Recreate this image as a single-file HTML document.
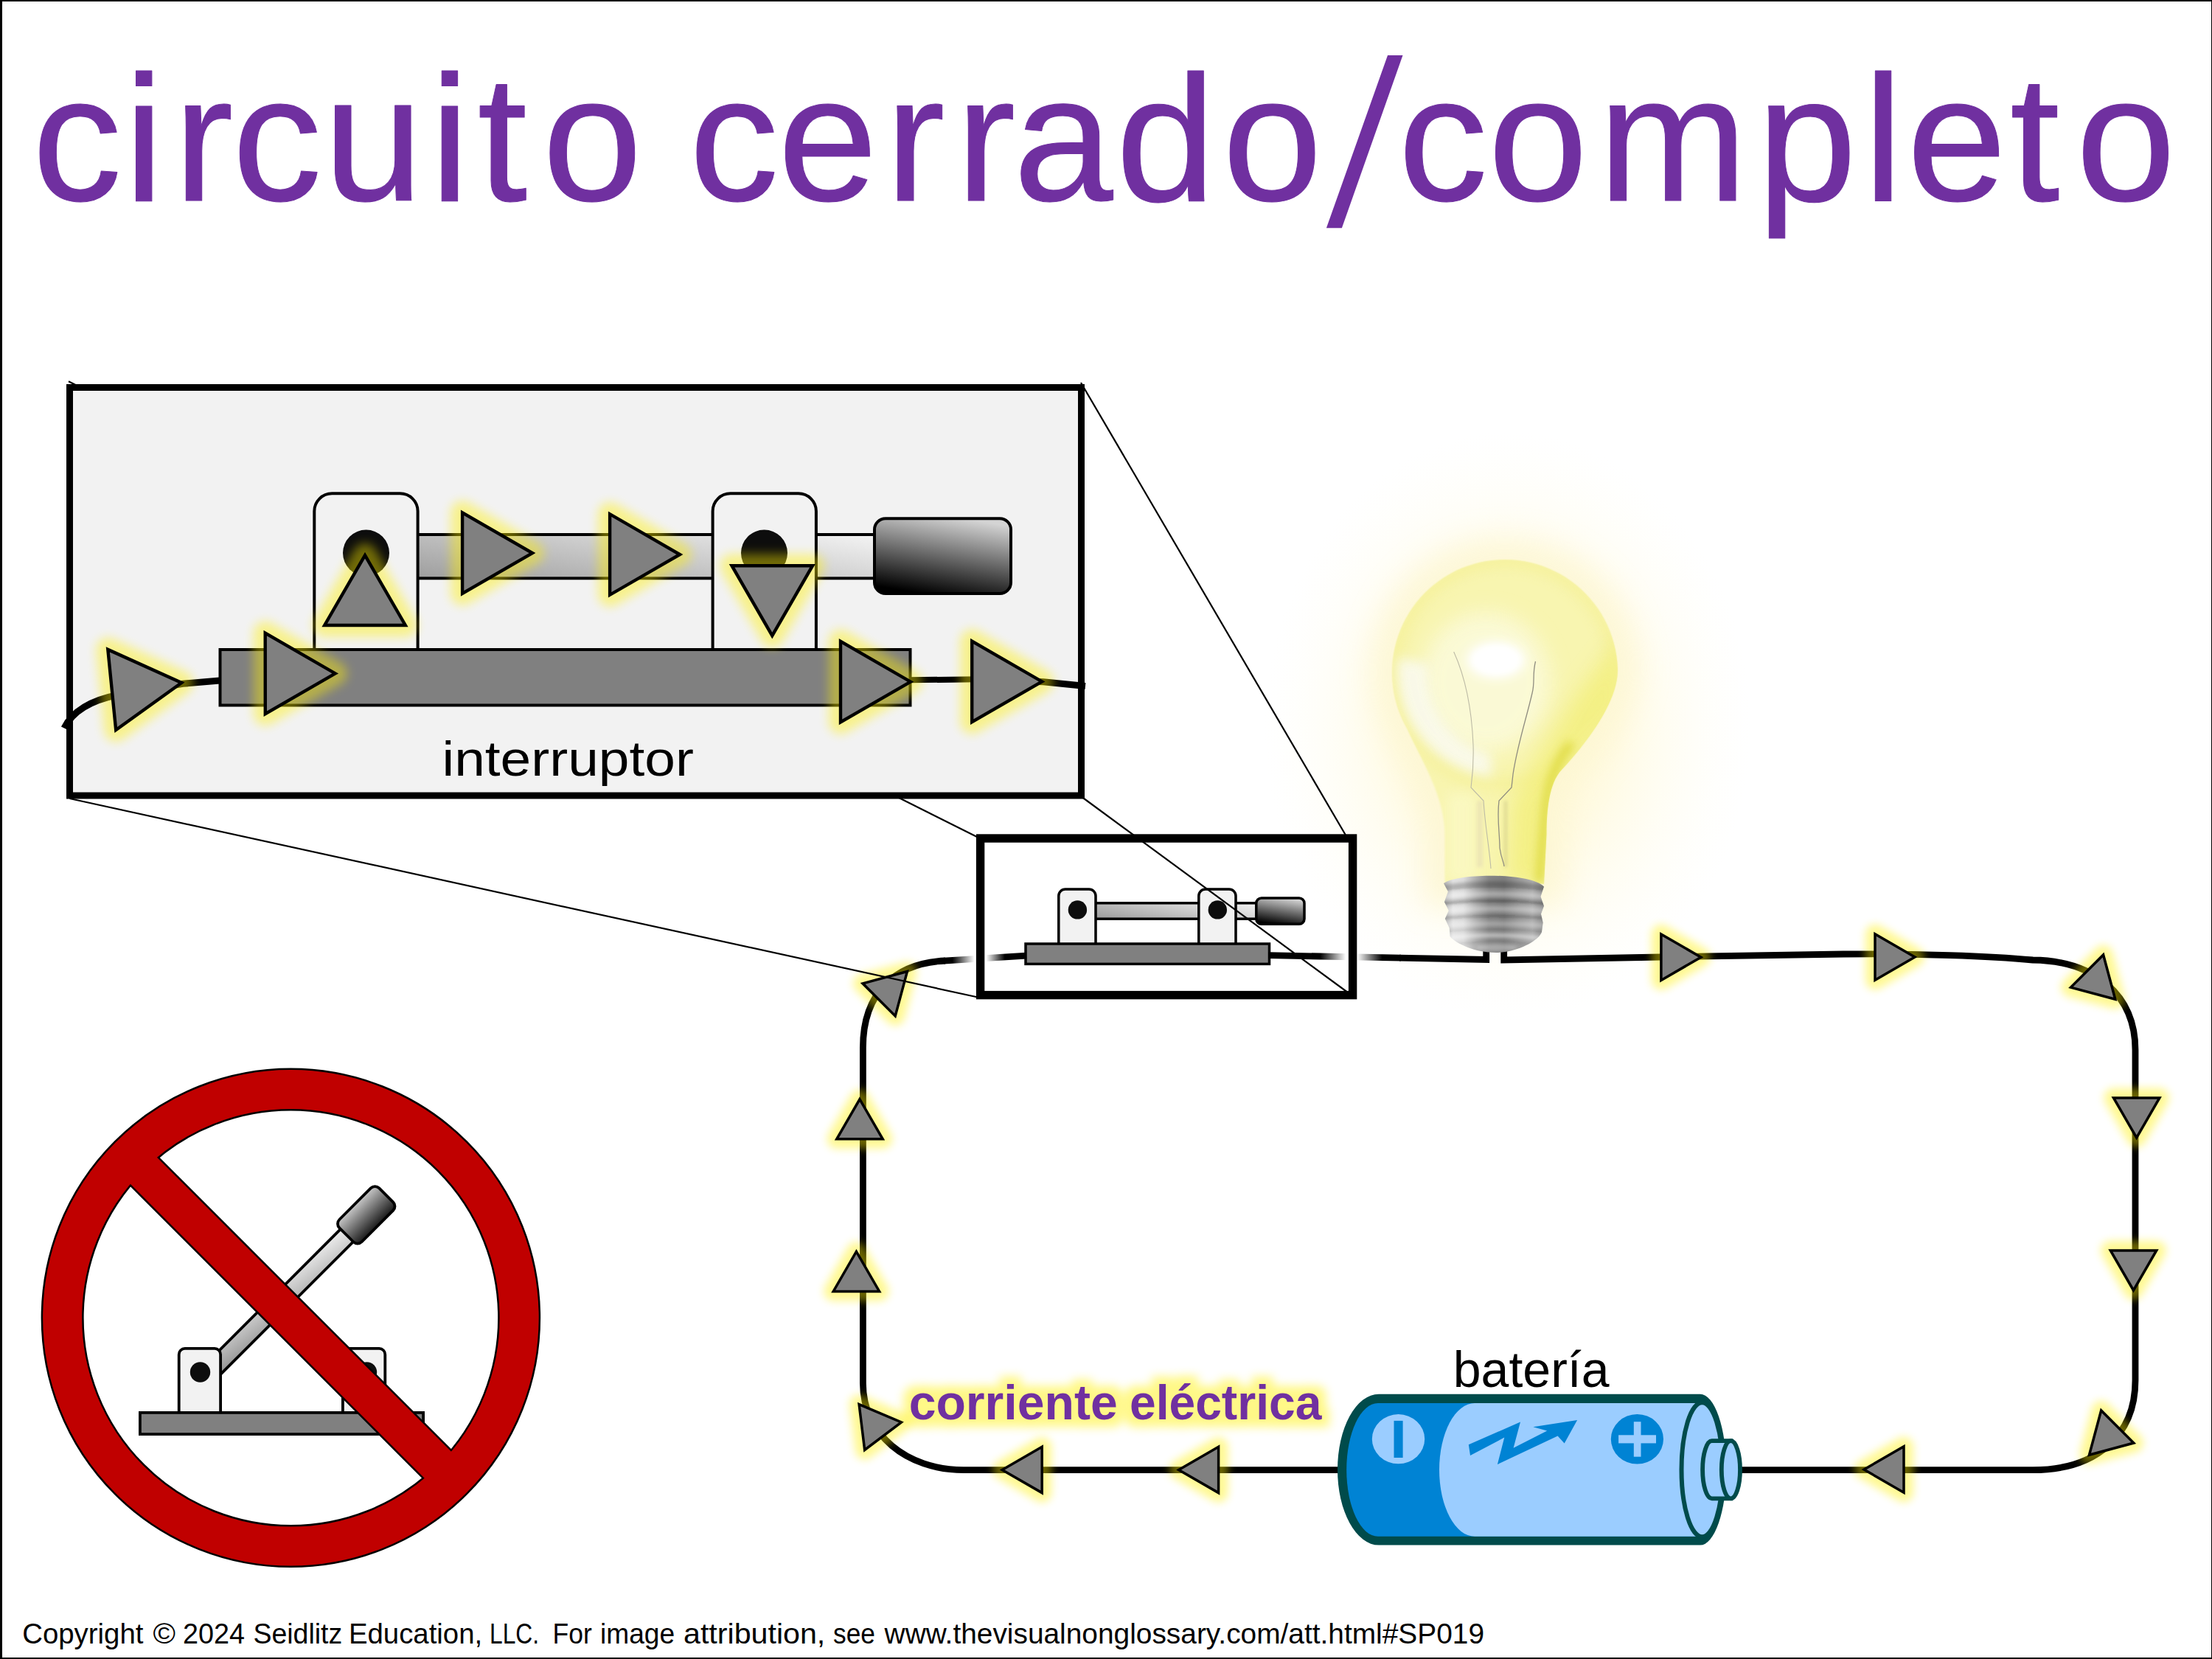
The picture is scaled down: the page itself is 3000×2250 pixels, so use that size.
<!DOCTYPE html>
<html lang="es">
<head>
<meta charset="utf-8">
<title>circuito cerrado/completo</title>
<style>
  html, body { margin: 0; padding: 0; background: #ffffff; }
  body { width: 3000px; height: 2250px; overflow: hidden; }
  svg { display: block; }
  text { font-family: "Liberation Sans", sans-serif; }
</style>
</head>
<body>
<svg width="3000" height="2250" viewBox="0 0 3000 2250">
<defs>
  <filter id="tglow" x="-10%" y="-70%" width="120%" height="240%" color-interpolation-filters="sRGB">
    <feMorphology in="SourceAlpha" operator="dilate" radius="10" result="d"/>
    <feGaussianBlur in="d" stdDeviation="6.5" result="b"/>
    <feFlood flood-color="#fff000" flood-opacity="0.47" result="f"/>
    <feComposite in="f" in2="b" operator="in" result="g"/>
    <feMerge><feMergeNode in="g"/><feMergeNode in="SourceGraphic"/></feMerge>
  </filter>
  <filter id="gb" x="-60%" y="-60%" width="220%" height="220%"><feGaussianBlur stdDeviation="6"/></filter>
  <filter id="blur4" x="-50%" y="-50%" width="200%" height="200%"><feGaussianBlur stdDeviation="4"/></filter>
  <filter id="blur8" x="-50%" y="-50%" width="200%" height="200%"><feGaussianBlur stdDeviation="8"/></filter>
  <filter id="blur20" x="-50%" y="-50%" width="200%" height="200%"><feGaussianBlur stdDeviation="20"/></filter>
  <filter id="blur6" x="-50%" y="-50%" width="200%" height="200%"><feGaussianBlur stdDeviation="6"/></filter>
  <filter id="blur1"><feGaussianBlur stdDeviation="1.2"/></filter>
  <filter id="blur2" x="-100%" y="-20%" width="300%" height="140%"><feGaussianBlur stdDeviation="2"/></filter>
  <filter id="blur14" x="-50%" y="-50%" width="200%" height="200%"><feGaussianBlur stdDeviation="14"/></filter>
  <linearGradient id="lever" x1="0" y1="1" x2="1" y2="0">
    <stop offset="0" stop-color="#8e8e8e"/><stop offset="0.5" stop-color="#d2d2d2"/><stop offset="1" stop-color="#f0f0f0"/>
  </linearGradient>
  <linearGradient id="handle" x1="0.35" y1="1" x2="0.65" y2="0">
    <stop offset="0" stop-color="#000000"/><stop offset="0.5" stop-color="#6a6a6a"/><stop offset="1" stop-color="#d4d4d4"/>
  </linearGradient>
  <linearGradient id="leverA" gradientUnits="userSpaceOnUse" x1="500" y1="784.3" x2="526.4" y2="619.1">
    <stop offset="0" stop-color="#989898"/><stop offset="1" stop-color="#f4f4f4"/>
  </linearGradient>
  <linearGradient id="leverB" gradientUnits="userSpaceOnUse" x1="1480" y1="1246.2" x2="1490.5" y2="1186.9">
    <stop offset="0" stop-color="#989898"/><stop offset="1" stop-color="#f4f4f4"/>
  </linearGradient>
  <filter id="gb7" x="-60%" y="-60%" width="220%" height="220%"><feGaussianBlur stdDeviation="7"/></filter>
  
  <linearGradient id="lever2" gradientUnits="userSpaceOnUse" x1="0" y1="12" x2="11.06" y2="-57.1">
    <stop offset="0" stop-color="#929292"/><stop offset="1" stop-color="#f2f2f2"/>
  </linearGradient>
  <linearGradient id="handle2" x1="0" y1="1" x2="0" y2="0">
    <stop offset="0" stop-color="#1a1a1a"/><stop offset="1" stop-color="#c8c8c8"/>
  </linearGradient>

  <radialGradient id="bglow" cx="0.5" cy="0.5" r="0.5">
    <stop offset="0" stop-color="#fff2a8" stop-opacity="0.6"/>
    <stop offset="0.45" stop-color="#fff4b8" stop-opacity="0.38"/>
    <stop offset="0.75" stop-color="#fff8d0" stop-opacity="0.16"/>
    <stop offset="1" stop-color="#fffbe6" stop-opacity="0"/>
  </radialGradient>
  <clipPath id="glassclip"><path d="M1959.6,1200 L1959.6,1131 C1959.6,1080 1926,1028 1908.5,988.5 A153,153 0 1 1 2193.9,906.7 C2195.5,951.7 2150,1010 2118,1044 C2100.7,1062 2097.5,1100 2097.5,1131 L2094,1199 L2060,1196 Z"/></clipPath>
  <clipPath id="baseclip"><path d="M1958,1198 C1975,1184 2075,1183 2094,1202.5 L2089.5,1216 L2094,1228.7 L2090,1239.6 L2092.7,1251.3 L2091,1264 C2088,1274 2062,1291 2029.5,1292 C2000,1292 1975,1280 1966.6,1270 L1965.7,1258.6 L1959.8,1245.9 L1964.8,1235 L1958.9,1223.3 L1963.9,1209.3 Z"/></clipPath>
  <linearGradient id="baseg" gradientUnits="userSpaceOnUse" x1="1957" y1="0" x2="2095" y2="0">
    <stop offset="0" stop-color="#b0b0b0"/><stop offset="0.1" stop-color="#e4e4e4"/><stop offset="0.2" stop-color="#dedede"/><stop offset="0.33" stop-color="#acacac"/>
    <stop offset="0.45" stop-color="#868686"/><stop offset="0.6" stop-color="#7e7e7e"/><stop offset="0.75" stop-color="#9a9a9a"/><stop offset="0.88" stop-color="#aeaeae"/><stop offset="1" stop-color="#8c8c8c"/>
  </linearGradient>

</defs>

<rect x="0" y="0" width="3000" height="2250" fill="#ffffff"/>


<g id="bulb">
  <ellipse cx="2045" cy="985" rx="330" ry="400" fill="url(#bglow)"/>
  <path d="M1959.6,1200 L1959.6,1131 C1959.6,1080 1926,1028 1908.5,988.5 A153,153 0 1 1 2193.9,906.7 C2195.5,951.7 2150,1010 2118,1044 C2100.7,1062 2097.5,1100 2097.5,1131 L2094,1199 L2060,1196 Z" fill="none" stroke="#fdf6d0" stroke-width="56" filter="url(#blur20)" opacity="0.8"/>
  <path d="M1959.6,1200 L1959.6,1131 C1959.6,1080 1926,1028 1908.5,988.5 A153,153 0 1 1 2193.9,906.7 C2195.5,951.7 2150,1010 2118,1044 C2100.7,1062 2097.5,1100 2097.5,1131 L2094,1199 L2060,1196 Z" fill="#f8f5b0" filter="url(#blur1)"/>
  <g clip-path="url(#glassclip)">
    <circle cx="2041" cy="912" r="151" fill="none" stroke="#f4ee88" stroke-width="18" filter="url(#blur8)" opacity="0.45"/>
    <ellipse cx="2015" cy="925" rx="88" ry="95" fill="#fbfadc" filter="url(#blur14)" opacity="0.85"/>
    <path d="M2200,860 L2200,960 L2122,1050 L2106,1090 L2100,1200 L2045,1200 L2050,1090 L2085,1030 L2140,940 Z" fill="#f3ef80" filter="url(#blur14)" opacity="0.9"/>
    <path d="M2128,1012 C2112,1032 2102,1056 2097,1090 L2088,1192" fill="none" stroke="#deda40" stroke-width="13" stroke-linecap="round" filter="url(#blur6)" opacity="0.85"/>
    <path d="M1896.4,891.7 A146,146 0 0 0 2023.6,1053.9 L2021.6,1022.3 A110,110 0 0 1 1937.6,901.1 Z" fill="#f9f9ee" filter="url(#blur8)" opacity="0.9"/>
    <rect x="1962" y="1075" width="40" height="120" fill="#fbf9c6" filter="url(#blur8)" opacity="0.7"/>
    <ellipse cx="2029" cy="895" rx="40" ry="25" fill="#ffffff" filter="url(#blur8)"/>
    <ellipse cx="2029" cy="895" rx="32" ry="19" fill="#ffffff" filter="url(#blur4)"/>
  </g>
  <!-- stem + filament -->
  <g fill="none">
    <rect x="2003" y="1086" width="8" height="90" fill="#e8e0b4" opacity="0.7" filter="url(#blur2)"/>
    <rect x="2040" y="1086" width="4" height="90" fill="#d8d290" opacity="0.8" filter="url(#blur2)"/>
    <path d="M1971.7,884 C1988,920 1996,960 1998,1010 C1999,1040 1996,1060 1995,1068 L2012,1086 C2014,1120 2020,1150 2022,1178" stroke="#bdbba6" stroke-width="1.1"/>
    <path d="M2082.5,897 C2078,915 2082,925 2078,940 C2070,975 2058,1010 2052,1050 L2050,1068 L2033,1086 C2030,1110 2034,1130 2034,1150 C2036,1165 2040,1170 2040,1175" stroke="#8f8d80" stroke-width="1.3"/>
  </g>
</g>


<g stroke="#000" stroke-width="3.5">
  <rect x="1480" y="1224.8" width="225" height="21.4" fill="url(#leverB)"/>
  <rect x="1435.8" y="1206" width="50.2" height="90" rx="9" fill="#f2f2f2"/>
  <rect x="1625.8" y="1206" width="50.2" height="90" rx="9" fill="#f2f2f2"/>
  <rect x="1703.8" y="1218" width="65.2" height="35.2" rx="7" fill="url(#handle)"/>
  <rect x="1391" y="1280" width="330.5" height="27.4" fill="#808080"/>
</g>
<circle cx="1461.4" cy="1233.9" r="12.7" fill="#0d0d0d"/>
<circle cx="1651.3" cy="1233.9" r="12.7" fill="#0d0d0d"/>


<defs>
  <linearGradient id="fadeL" gradientUnits="userSpaceOnUse" x1="1280" y1="0" x2="1395" y2="0">
    <stop offset="0" stop-color="#000"/><stop offset="0.10" stop-color="#000"/><stop offset="0.36" stop-color="#fff"/>
    <stop offset="0.50" stop-color="#fff"/><stop offset="0.72" stop-color="#000"/><stop offset="1" stop-color="#000"/>
  </linearGradient>
  <linearGradient id="fadeR" gradientUnits="userSpaceOnUse" x1="1720" y1="0" x2="1900" y2="0">
    <stop offset="0" stop-color="#000"/><stop offset="0.39" stop-color="#000"/><stop offset="0.585" stop-color="#fff"/>
    <stop offset="0.67" stop-color="#fff"/><stop offset="0.86" stop-color="#000"/><stop offset="1" stop-color="#000"/>
  </linearGradient>
</defs>
<g fill="none" stroke="#000" stroke-width="8.8" stroke-linejoin="miter">
  <!-- left/bottom loop: battery(-) to switch -->
  <path d="M1816,1993.6 L1307,1993.6 C1229,1993.6 1170.4,1945 1170.4,1876 L1170.4,1421 C1170.4,1345 1215,1306 1282,1303"/>
  <path d="M1280,1303.1 L1392,1296.2" stroke="url(#fadeL)"/>
  <!-- switch to bulb -->
  <path d="M1721,1295.6 L1900,1299.2" stroke="url(#fadeR)"/>
  <path d="M1898,1299.1 L2015.7,1301.4 L2015.7,1286"/>
  <!-- bulb to battery(+) -->
  <path d="M2039.7,1286 L2039.7,1302 L2252,1298 L2500,1294 C2600,1293 2700,1296.5 2757,1302 C2842,1303 2896,1350 2896,1424 L2896,1872 C2896,1948 2842,1993.6 2757,1993.6 L2358,1993.6"/>
</g>

<g id="bulbbase">
  <!-- screw base -->
  <path id="basep" d="M1958,1198 C1975,1184 2075,1183 2094,1202.5 L2089.5,1216 L2094,1228.7 L2090,1239.6 L2092.7,1251.3 L2091,1264 C2088,1274 2062,1291 2029.5,1292 C2000,1292 1975,1280 1966.6,1270 L1965.7,1258.6 L1959.8,1245.9 L1964.8,1235 L1958.9,1223.3 L1963.9,1209.3 Z" fill="url(#baseg)"/>
  <g clip-path="url(#baseclip)" filter="url(#blur2)">
    <path d="M1950,1206 Q2026,1193.0 2102,1206" stroke="#000" stroke-opacity="0.22" stroke-width="9" fill="none"/>
    <path d="M1950,1217 Q2026,1207.6 2102,1217" stroke="#fff" stroke-opacity="0.3" stroke-width="7" fill="none"/>
    <path d="M1950,1225 Q2026,1216.0 2102,1225" stroke="#000" stroke-opacity="0.24" stroke-width="8" fill="none"/>
    <path d="M1950,1236 Q2026,1228.6 2102,1236" stroke="#fff" stroke-opacity="0.3" stroke-width="7" fill="none"/>
    <path d="M1950,1245 Q2026,1238.0 2102,1245" stroke="#000" stroke-opacity="0.17" stroke-width="7" fill="none"/>
    <path d="M1950,1256 Q2026,1249.4 2102,1256" stroke="#fff" stroke-opacity="0.25" stroke-width="7" fill="none"/>
    <path d="M1950,1262 Q2026,1257.0 2102,1262" stroke="#000" stroke-opacity="0.12" stroke-width="5" fill="none"/>
    <path d="M1950,1274 Q2026,1263.0 2102,1274" stroke="#fff" stroke-opacity="0.45" stroke-width="6" fill="none"/>
    <path d="M1950,1282 Q2026,1273.0 2102,1282" stroke="#000" stroke-opacity="0.08" stroke-width="5" fill="none"/>
    <ellipse cx="2030" cy="1285" rx="28" ry="5" fill="#fff" fill-opacity="0.3"/>
  </g>
</g>

<rect x="1329.6" y="1137" width="505" height="212.6" fill="none" stroke="#000" stroke-width="11.4"/>
<polygon points="2306.9,1298.2 2252.9,1329.4 2252.9,1267.0" fill="#fff000" stroke="#fff000" stroke-width="26" stroke-linejoin="round" opacity="0.42" filter="url(#gb)"/>
<polygon points="2306.9,1298.2 2252.9,1329.4 2252.9,1267.0" fill="#808080" stroke="#000" stroke-width="3.5" stroke-linejoin="miter"/>
<polygon points="2597.0,1298.0 2543.0,1329.2 2543.0,1266.8" fill="#fff000" stroke="#fff000" stroke-width="26" stroke-linejoin="round" opacity="0.42" filter="url(#gb)"/>
<polygon points="2597.0,1298.0 2543.0,1329.2 2543.0,1266.8" fill="#808080" stroke="#000" stroke-width="3.5" stroke-linejoin="miter"/>
<polygon points="2868.8,1355.3 2808.5,1339.1 2852.6,1295.0" fill="#fff000" stroke="#fff000" stroke-width="26" stroke-linejoin="round" opacity="0.42" filter="url(#gb)"/>
<polygon points="2868.8,1355.3 2808.5,1339.1 2852.6,1295.0" fill="#808080" stroke="#000" stroke-width="3.5" stroke-linejoin="miter"/>
<polygon points="2897.7,1543.0 2866.5,1489.0 2928.9,1489.0" fill="#fff000" stroke="#fff000" stroke-width="26" stroke-linejoin="round" opacity="0.42" filter="url(#gb)"/>
<polygon points="2897.7,1543.0 2866.5,1489.0 2928.9,1489.0" fill="#808080" stroke="#000" stroke-width="3.5" stroke-linejoin="miter"/>
<polygon points="2893.5,1750.0 2862.3,1696.0 2924.7,1696.0" fill="#fff000" stroke="#fff000" stroke-width="26" stroke-linejoin="round" opacity="0.42" filter="url(#gb)"/>
<polygon points="2893.5,1750.0 2862.3,1696.0 2924.7,1696.0" fill="#808080" stroke="#000" stroke-width="3.5" stroke-linejoin="miter"/>
<polygon points="2833.5,1973.2 2849.7,1912.9 2893.8,1957.0" fill="#fff000" stroke="#fff000" stroke-width="26" stroke-linejoin="round" opacity="0.42" filter="url(#gb)"/>
<polygon points="2833.5,1973.2 2849.7,1912.9 2893.8,1957.0" fill="#808080" stroke="#000" stroke-width="3.5" stroke-linejoin="miter"/>
<polygon points="2528.0,1993.0 2582.0,1961.8 2582.0,2024.2" fill="#fff000" stroke="#fff000" stroke-width="26" stroke-linejoin="round" opacity="0.42" filter="url(#gb)"/>
<polygon points="2528.0,1993.0 2582.0,1961.8 2582.0,2024.2" fill="#808080" stroke="#000" stroke-width="3.5" stroke-linejoin="miter"/>
<polygon points="1598.6,1993.4 1652.6,1962.2 1652.6,2024.6" fill="#fff000" stroke="#fff000" stroke-width="26" stroke-linejoin="round" opacity="0.42" filter="url(#gb)"/>
<polygon points="1598.6,1993.4 1652.6,1962.2 1652.6,2024.6" fill="#808080" stroke="#000" stroke-width="3.5" stroke-linejoin="miter"/>
<polygon points="1359.2,1993.4 1413.2,1962.2 1413.2,2024.6" fill="#fff000" stroke="#fff000" stroke-width="26" stroke-linejoin="round" opacity="0.42" filter="url(#gb)"/>
<polygon points="1359.2,1993.4 1413.2,1962.2 1413.2,2024.6" fill="#808080" stroke="#000" stroke-width="3.5" stroke-linejoin="miter"/>
<polygon points="1165.1,1904.6 1222.5,1929.0 1172.7,1966.5" fill="#fff000" stroke="#fff000" stroke-width="26" stroke-linejoin="round" opacity="0.42" filter="url(#gb)"/>
<polygon points="1165.1,1904.6 1222.5,1929.0 1172.7,1966.5" fill="#808080" stroke="#000" stroke-width="3.5" stroke-linejoin="miter"/>
<polygon points="1161.4,1697.4 1192.6,1751.4 1130.2,1751.4" fill="#fff000" stroke="#fff000" stroke-width="26" stroke-linejoin="round" opacity="0.42" filter="url(#gb)"/>
<polygon points="1161.4,1697.4 1192.6,1751.4 1130.2,1751.4" fill="#808080" stroke="#000" stroke-width="3.5" stroke-linejoin="miter"/>
<polygon points="1166.0,1490.8 1197.2,1544.8 1134.8,1544.8" fill="#fff000" stroke="#fff000" stroke-width="26" stroke-linejoin="round" opacity="0.42" filter="url(#gb)"/>
<polygon points="1166.0,1490.8 1197.2,1544.8 1134.8,1544.8" fill="#808080" stroke="#000" stroke-width="3.5" stroke-linejoin="miter"/>
<polygon points="1230.4,1317.6 1214.2,1377.9 1170.1,1333.8" fill="#fff000" stroke="#fff000" stroke-width="26" stroke-linejoin="round" opacity="0.42" filter="url(#gb)"/>
<polygon points="1230.4,1317.6 1214.2,1377.9 1170.1,1333.8" fill="#808080" stroke="#000" stroke-width="3.5" stroke-linejoin="miter"/>

<g stroke="#000" stroke-width="2.2" fill="none">
  <line x1="93" y1="517.3" x2="1329" y2="1137"/>
  <line x1="1466" y1="519" x2="1827" y2="1136"/>
  <line x1="1466" y1="1080" x2="1832" y2="1349"/>
  <line x1="94.5" y1="1083" x2="1329.6" y2="1353.3"/>
</g>


<rect x="94.5" y="525.5" width="1372" height="553.5" fill="#f2f2f2" stroke="#000" stroke-width="9"/>
<g fill="none" stroke="#000" stroke-width="9">
  <path d="M87,987.5 C99,963.5 124,949.5 160,942.5 L248,927.3 L298,923"/>
  <path d="M1234,922.3 L1345,921" stroke-width="8"/>
  <path d="M1395,924 L1415,924.8 L1472,930.5"/>
</g>
<g stroke="#000" stroke-width="4">
  <rect x="500" y="725" width="690" height="59.3" fill="url(#leverA)"/>
  <rect x="426.3" y="669.3" width="140.3" height="250" rx="24" fill="#f2f2f2"/>
  <rect x="966.6" y="669.3" width="140.3" height="250" rx="24" fill="#f2f2f2"/>
  <rect x="1186" y="703.2" width="185" height="101.8" rx="15" fill="url(#handle)"/>
  <rect x="298.5" y="881" width="936" height="75.5" fill="#808080"/>
</g>
<circle cx="496.5" cy="750" r="31.5" fill="#0d0d0d"/>
<circle cx="1036.5" cy="750" r="31.5" fill="#0d0d0d"/>
<polygon points="246.2,926.0 157.2,990.0 146.3,880.9" fill="#fff000" stroke="#fff000" stroke-width="32" stroke-linejoin="round" opacity="0.42" filter="url(#gb7)"/>
<polygon points="246.2,926.0 157.2,990.0 146.3,880.9" fill="#808080" stroke="#000" stroke-width="4.4" stroke-linejoin="miter"/>
<polygon points="454.7,913.4 359.8,968.2 359.7,858.6" fill="#fff000" stroke="#fff000" stroke-width="32" stroke-linejoin="round" opacity="0.42" filter="url(#gb7)"/>
<polygon points="454.7,913.4 359.8,968.2 359.7,858.6" fill="#808080" stroke="#000" stroke-width="4.4" stroke-linejoin="miter"/>
<polygon points="495.0,753.1 549.8,848.0 440.2,848.0" fill="#fff000" stroke="#fff000" stroke-width="32" stroke-linejoin="round" opacity="0.42" filter="url(#gb7)"/>
<polygon points="495.0,753.1 549.8,848.0 440.2,848.0" fill="#808080" stroke="#000" stroke-width="4.4" stroke-linejoin="miter"/>
<polygon points="722.0,750.1 627.1,804.9 627.1,695.3" fill="#fff000" stroke="#fff000" stroke-width="32" stroke-linejoin="round" opacity="0.42" filter="url(#gb7)"/>
<polygon points="722.0,750.1 627.1,804.9 627.1,695.3" fill="#808080" stroke="#000" stroke-width="4.4" stroke-linejoin="miter"/>
<polygon points="922.0,752.0 827.1,806.8 827.1,697.2" fill="#fff000" stroke="#fff000" stroke-width="32" stroke-linejoin="round" opacity="0.42" filter="url(#gb7)"/>
<polygon points="922.0,752.0 827.1,806.8 827.1,697.2" fill="#808080" stroke="#000" stroke-width="4.4" stroke-linejoin="miter"/>
<polygon points="1047.3,862.2 992.5,767.2 1102.1,767.2" fill="#fff000" stroke="#fff000" stroke-width="32" stroke-linejoin="round" opacity="0.42" filter="url(#gb7)"/>
<polygon points="1047.3,862.2 992.5,767.2 1102.1,767.2" fill="#808080" stroke="#000" stroke-width="4.4" stroke-linejoin="miter"/>
<polygon points="1235.0,924.7 1140.0,979.5 1140.0,869.9" fill="#fff000" stroke="#fff000" stroke-width="32" stroke-linejoin="round" opacity="0.42" filter="url(#gb7)"/>
<polygon points="1235.0,924.7 1140.0,979.5 1140.0,869.9" fill="#808080" stroke="#000" stroke-width="4.4" stroke-linejoin="miter"/>
<polygon points="1413.2,924.4 1318.2,979.2 1318.2,869.6" fill="#fff000" stroke="#fff000" stroke-width="32" stroke-linejoin="round" opacity="0.42" filter="url(#gb7)"/>
<polygon points="1413.2,924.4 1318.2,979.2 1318.2,869.6" fill="#808080" stroke="#000" stroke-width="4.4" stroke-linejoin="miter"/>
<text x="599.5" y="1052" font-size="67.5" textLength="341.4" lengthAdjust="spacingAndGlyphs" fill="#000">interruptor</text>

<g>
  <path d="M1870,1890.8 L2305.8,1890.8 A35.5,102.4 0 0 1 2305.8,2095.6 L1870,2095.6 A56,102.4 0 0 1 1870,1890.8 Z" fill="#004b4b"/>
  <path d="M1868.8,1903 L2308,1903 L2308,2083.8 L1868.8,2083.8 A42.6,90.4 0 0 1 1868.8,1903 Z" fill="#0083d4"/>
  <path d="M2000,1903 L2308,1903 L2308,2083.8 L2000,2083.8 A48,90.4 0 0 1 2000,1903 Z" fill="#9bcdff"/>
  <ellipse cx="2308.5" cy="1993.2" rx="28" ry="91" fill="#9bcdff" stroke="#004b4b" stroke-width="6"/>
  <path d="M2321.7,1954.2 L2347.4,1954.2 L2347.4,2032.4 L2321.7,2032.4 A12.6,39.1 0 0 1 2321.7,1954.2 Z" fill="#9bcdff" stroke="#004b4b" stroke-width="5.8"/>
  <ellipse cx="2347.4" cy="1993.3" rx="12.6" ry="39.1" fill="#9bcdff" stroke="#004b4b" stroke-width="5.8"/>
  <!-- minus -->
  <ellipse cx="1896.5" cy="1951.7" rx="35.7" ry="33.6" fill="#9bcdff"/>
  <rect x="1890.5" y="1926.9" width="12.1" height="50.1" fill="#0083d4"/>
  <!-- plus -->
  <ellipse cx="2220.4" cy="1951.8" rx="35.6" ry="33.8" fill="#0083d4"/>
  <rect x="2195.1" y="1946.3" width="50.9" height="11.1" fill="#9bcdff"/>
  <rect x="2215.8" y="1928.2" width="9.7" height="47.5" fill="#9bcdff"/>
  <!-- bolt -->
  <polygon fill="#0083d4" points="1991.8,1959.3 2062,1928.6 2052.6,1963.7 2098.2,1940.5 2079.3,1935.2 2139.1,1926 2121.7,1957.6 2112.6,1947.5 2030.9,1986.1 2040.3,1949.6 1994,1974.1"/>
</g>
<text x="1970.8" y="1880.9" font-size="68" textLength="211.7" lengthAdjust="spacingAndGlyphs" fill="#000">batería</text>
<text font-weight="bold" font-size="67" fill="#7030a0" filter="url(#tglow)" y="1925.4"><tspan x="1232.7" textLength="283.0" lengthAdjust="spacingAndGlyphs">corriente</tspan> <tspan x="1532.0" textLength="260.4" lengthAdjust="spacingAndGlyphs">eléctrica</tspan></text>


<g>
  <!-- open switch -->
  <g stroke="#000" stroke-width="3.8">
    <g transform="translate(278.25,1867.75) rotate(-45)">
      <rect x="0" y="-12.1" width="300" height="24.2" fill="url(#lever2)"/>
      <rect x="271.9" y="-22.4" width="76.2" height="42.8" rx="8" fill="url(#handle2)"/>
    </g>
    <rect x="242.7" y="1828.9" width="56.4" height="100" rx="8" fill="#f2f2f2"/>
    <rect x="464.9" y="1828.9" width="57.4" height="100" rx="8" fill="#f2f2f2"/>
    <rect x="189.9" y="1915.9" width="384.2" height="29.2" fill="#808080"/>
  </g>
  <circle cx="271.5" cy="1861" r="13.7" fill="#0d0d0d"/>
  <circle cx="497.5" cy="1861" r="13.7" fill="#0d0d0d"/>
  <!-- prohibition sign -->
  <circle cx="394.4" cy="1787.3" r="309.75" fill="none" stroke="#000" stroke-width="58"/>
  <line x1="175.6" y1="1568.5" x2="613.2" y2="2006.1" stroke="#000" stroke-width="56"/>
  <circle cx="394.4" cy="1787.3" r="309.75" fill="none" stroke="#c00000" stroke-width="53"/>
  <line x1="175.6" y1="1568.5" x2="613.2" y2="2006.1" stroke="#c00000" stroke-width="51"/>
</g>


<!-- text -->
<g fill="#7030a0" stroke="#7030a0" stroke-width="1" stroke-linejoin="round" font-size="243">
  <text x="43.7 168.2 235.5 315.1 438.8 583.0 647.6 735.8 880.0 934.7 1055.0 1200.8 1296.6 1374.4 1513.5 1657.9" y="271.5">circuito cerrado</text>
  <text transform="translate(1799.3,306.2) skewX(-7.28) scale(0.831,1)" x="0" y="0" font-size="319" stroke-width="0">/</text>
  <text x="1896.2 2018.2 2167.5 2383.0 2527.0 2586.3 2725.9 2815.5" y="271.5">completo</text>
</g>
<g id="footer" font-size="38" fill="#000000">
  <text x="30.2" y="2229" textLength="164.2" lengthAdjust="spacingAndGlyphs">Copyright</text>
  <text x="207.6" y="2229" textLength="30.5" lengthAdjust="spacingAndGlyphs">©</text>
  <text x="248.0" y="2229" textLength="84.0" lengthAdjust="spacingAndGlyphs">2024</text>
  <text x="343.4" y="2229" textLength="120.8" lengthAdjust="spacingAndGlyphs">Seidlitz</text>
  <text x="473.0" y="2229" textLength="181.1" lengthAdjust="spacingAndGlyphs">Education,</text>
  <text x="664.0" y="2229" textLength="67.0" lengthAdjust="spacingAndGlyphs">LLC.</text>
  <text x="749.6" y="2229" textLength="53.2" lengthAdjust="spacingAndGlyphs">For</text>
  <text x="814.0" y="2229" textLength="101.2" lengthAdjust="spacingAndGlyphs">image</text>
  <text x="927.0" y="2229" textLength="192.3" lengthAdjust="spacingAndGlyphs">attribution,</text>
  <text x="1130.0" y="2229" textLength="56.9" lengthAdjust="spacingAndGlyphs">see</text>
  <text x="1199.6" y="2229" textLength="813.4" lengthAdjust="spacingAndGlyphs">www.thevisualnonglossary.com/att.html#SP019</text>
</g>

<!-- slide frame -->
<rect x="0" y="0" width="3000" height="2" fill="#000"/>
<rect x="0" y="2248" width="3000" height="2" fill="#000"/>
<rect x="0" y="0" width="3" height="2250" fill="#000"/>
<rect x="2999" y="0" width="1" height="2250" fill="#000"/>
</svg>
</body>
</html>
